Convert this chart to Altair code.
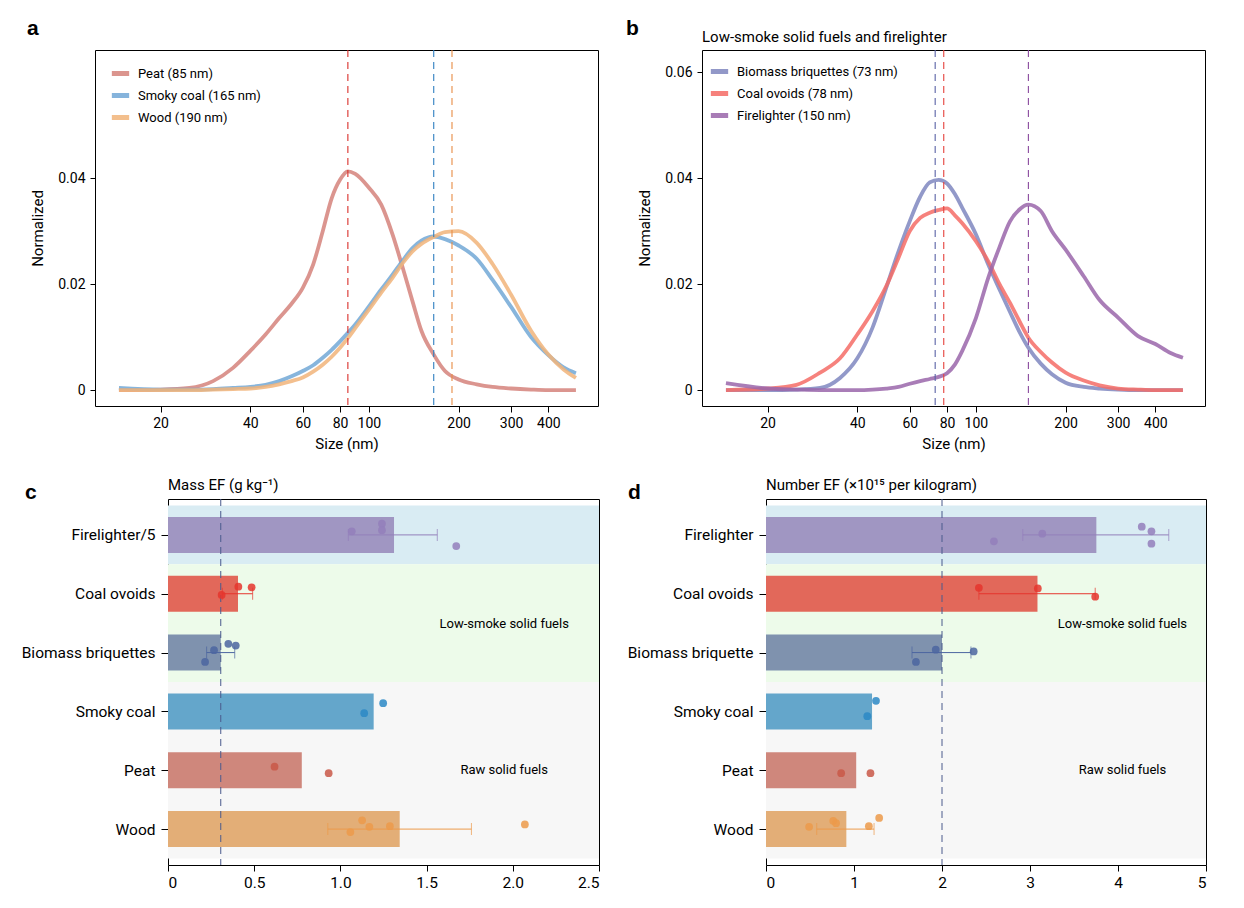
import json
import altair as alt
import pandas as pd

FONT = "Roboto"
LETTER_FONT = "Liberation Sans"

# ---------------- panels a / b : normalised size distributions ----------------
size_nm = [14.5, 20, 25, 30, 35, 40, 45, 50, 55, 60, 65, 70, 75, 80, 85, 90,
           100, 110, 120, 130, 140, 150, 165, 180, 200, 230, 260, 300, 350, 400, 450, 495]

peat = [0.0000, 0.0001, 0.0004, 0.0017, 0.0042, 0.0074, 0.0105, 0.0136, 0.0163, 0.0193,
        0.0237, 0.0300, 0.0362, 0.0397, 0.0413, 0.0408, 0.0382, 0.0350, 0.0294, 0.0230,
        0.0168, 0.0112, 0.0067, 0.0036, 0.0020, 0.0011, 0.0006, 0.0003, 0.0001, 0.0000,
        0.0000, 0.0000]
smoky_coal = [0.0004, 0.0001, 0.0001, 0.0002, 0.0004, 0.0006, 0.0010, 0.0017, 0.0026, 0.0036,
              0.0047, 0.0061, 0.0076, 0.0092, 0.0108, 0.0124, 0.0158, 0.0190, 0.0218, 0.0245,
              0.0268, 0.0282, 0.0290, 0.0285, 0.0273, 0.0248, 0.0208, 0.0157, 0.0100, 0.0066,
              0.0043, 0.0032]
wood = [0.0000, 0.0000, 0.0000, 0.0001, 0.0002, 0.0003, 0.0006, 0.0011, 0.0017, 0.0024,
        0.0035, 0.0048, 0.0063, 0.0080, 0.0098, 0.0117, 0.0152, 0.0184, 0.0212, 0.0240,
        0.0262, 0.0276, 0.0289, 0.0298, 0.0300, 0.0278, 0.0238, 0.0180, 0.0112, 0.0067,
        0.0039, 0.0023]

biomass_briquettes = [0.0000, 0.0000, 0.0001, 0.0004, 0.0023, 0.0060, 0.0118, 0.0193, 0.0262, 0.0319,
                      0.0365, 0.0392, 0.0397, 0.0390, 0.0370, 0.0344, 0.0294, 0.0237, 0.0190, 0.0148,
                      0.0110, 0.0080, 0.0050, 0.0030, 0.0014, 0.0006, 0.0003, 0.0001, 0.0000, 0.0000,
                      0.0000, 0.0000]
coal_ovoids = [0.0000, 0.0003, 0.0010, 0.0033, 0.0060, 0.0105, 0.0149, 0.0196, 0.0250, 0.0300,
               0.0325, 0.0335, 0.0340, 0.0343, 0.0330, 0.0315, 0.0281, 0.0243, 0.0200, 0.0165,
               0.0130, 0.0099, 0.0072, 0.0052, 0.0033, 0.0018, 0.0009, 0.0003, 0.0001, 0.0000,
               0.0000, 0.0000]
firelighter = [0.0013, 0.0003, 0.0001, 0.0000, 0.0000, 0.0000, 0.0001, 0.0003, 0.0006, 0.0012,
               0.0017, 0.0021, 0.0025, 0.0032, 0.0048, 0.0074, 0.0136, 0.0212, 0.0270, 0.0318,
               0.0341, 0.0350, 0.0338, 0.0300, 0.0265, 0.0215, 0.0170, 0.0137, 0.0102, 0.0087,
               0.0070, 0.0061]

raw_names = ["Peat", "Smoky coal", "Wood"]
raw_modes = [85, 165, 190]
raw_line_colors = ["#d5837b", "#72a8d6", "#f1b47a"]
raw_dash_colors = ["#d9302b", "#2f7fc0", "#e88d45"]

lsf_names = ["Biomass briquettes", "Coal ovoids", "Firelighter"]
lsf_modes = [73, 78, 150]
lsf_line_colors = ["#7f87bf", "#f56c66", "#9a66aa"]
lsf_dash_colors = ["#5a62a6", "#e5423c", "#8a4a9e"]

size_ticks = [20, 40, 60, 80, 100, 200, 300, 400]

# ---------------- panels c / d : emission factors ----------------
mass_labels = ["Firelighter/5", "Coal ovoids", "Biomass briquettes", "Smoky coal", "Peat", "Wood"]
num_labels = ["Firelighter", "Coal ovoids", "Biomass briquette", "Smoky coal", "Peat", "Wood"]
row_group = ["fl", "lsf", "lsf", "raw", "raw", "raw"]

mass_mean = [1.311, 0.406, 0.306, 1.193, 0.776, 1.344]
mass_lo = [1.046, 0.315, 0.224, None, None, 0.927]
mass_hi = [1.562, 0.491, 0.387, None, None, 1.760]
mass_points = [[1.066, 1.241, 1.241, 1.672],
               [0.311, 0.408, 0.485],
               [0.215, 0.267, 0.350, 0.393],
               [1.138, 1.248],
               [0.618, 0.932],
               [1.058, 1.126, 1.168, 1.287, 2.070]]
mass_jitter = [[-0.06, -0.19, -0.08, 0.19],
               [0.02, -0.12, -0.11],
               [0.16, -0.04, -0.15, -0.12],
               [0.03, -0.14],
               [-0.06, 0.05],
               [0.05, -0.15, -0.04, -0.05, -0.08]]

num_mean = [3.754, 3.085, 2.000, 1.205, 1.025, 0.913]
num_lo = [2.918, 2.419, 1.659, None, None, 0.576]
num_hi = [4.577, 3.741, 2.329, None, None, 1.228]
num_points = [[2.59, 3.14, 4.27, 4.38, 4.38],
              [2.419, 3.089, 3.741],
              [1.704, 1.929, 2.360],
              [1.151, 1.250],
              [0.854, 1.187],
              [0.490, 0.764, 0.796, 1.169, 1.286]]
num_jitter = [[0.11, -0.02, -0.14, -0.06, 0.15],
              [-0.10, -0.09, 0.05],
              [0.16, -0.05, -0.02],
              [0.08, -0.18],
              [0.05, 0.05],
              [-0.04, -0.14, -0.10, -0.05, -0.19]]

bar_colors = ["#a096c2", "#e2685a", "#7f92ae", "#64a6cb", "#cf877c", "#e3ae77"]
pt_colors = ["#937fbb", "#e5352d", "#4b65a0", "#2b88c5", "#c95848", "#ec9a4a"]
group_names = ["fl", "lsf", "raw"]
group_colors = ["#d9ecf3", "#edfbea", "#f7f7f7"]


def text_mark(text, dx, dy, size=15, bold=False, opacity=1.0, align="left", font=FONT):
    return alt.Chart(pd.DataFrame({"t": [text]})).mark_text(
        font=font, fontWeight="bold" if bold else "normal", fontSize=size, align=align,
        baseline="alphabetic", opacity=opacity, color="black"
    ).encode(text="t:N", x=alt.value(dx), y=alt.value(dy))


def letter_mark(letter, dx, dy, opacity=1.0):
    return text_mark(letter, dx, dy, size=21, bold=True, opacity=opacity, font=LETTER_FONT)


def spacer(w):
    return alt.Chart(pd.DataFrame({"t": ["."]})).mark_text(opacity=0).encode(
        text="t:N").properties(width=w, height=1,
                               view=alt.ViewBackground(stroke="transparent"))


def psd_panel(names, modes, series, line_colors, dash_colors, yticks, letter, letter_dx,
              legend_x, legend_y, header=None, extra=()):
    labels = [f"{n} ({m} nm)" for n, m in zip(names, modes)]
    rows = []
    for lab, vals in zip(labels, series):
        for s, v in zip(size_nm, vals):
            rows.append({"series": lab, "size": s, "value": v})
    df = pd.DataFrame(rows)
    dash_df = pd.DataFrame({"size": modes, "dc": dash_colors})

    xs = alt.Scale(type="log", domain=[12.05, 587], nice=False)
    ys = alt.Scale(domain=[-0.003, 0.0642], nice=False, zero=False)
    xax = alt.Axis(values=size_ticks, format="d", title="Size (nm)", tickSize=6, labelPadding=4,
                   labelFontSize=14, titleFontSize=15, titlePadding=6, grid=False, domain=False)
    yax = alt.Axis(values=yticks, labelExpr="datum.value == 0 ? '0' : format(datum.value, '.2f')",
                   title="Normalized", tickSize=5, labelPadding=5, labelFontSize=14,
                   titleFontSize=15, titlePadding=8, minExtent=42, maxExtent=42,
                   grid=False, domain=False)

    lines = alt.Chart(df).mark_line(strokeWidth=3.8, opacity=0.85, interpolate="monotone").encode(
        x=alt.X("size:Q", scale=xs, axis=xax),
        y=alt.Y("value:Q", scale=ys, axis=yax),
        color=alt.Color("series:N", scale=alt.Scale(domain=labels, range=line_colors),
                        legend=alt.Legend(title=None, orient="none", legendX=legend_x,
                                          legendY=legend_y, symbolType="stroke",
                                          symbolStrokeWidth=5, symbolSize=300,
                                          labelFontSize=13, labelOffset=6, rowPadding=0,
                                          padding=0, symbolOpacity=0.85, labelLimit=400)),
    )
    dashes = alt.Chart(dash_df).mark_rule(strokeDash=[7, 5], strokeWidth=1.1).encode(
        x=alt.X("size:Q", scale=xs, axis=xax),
        color=alt.Color("dc:N", scale=None),
    )
    layers = [lines, dashes, letter_mark(letter, letter_dx, -15)]
    if header:
        layers.append(text_mark(header, 0, -8))
    layers.extend(extra)
    return alt.layer(*layers).properties(width=503, height=356)


def ef_panel(labels, means, lo, hi, pvals, pjit, xmax, xticks, xfmt, width, header,
             letter, letter_dx, extent, note_x, extra=()):
    n = len(labels)
    rows = list(range(n))
    bar_df = pd.DataFrame({"row": rows, "mean": means, "bc": bar_colors})
    err_df = pd.DataFrame({"row": rows, "lo": lo, "hi": hi, "pc": pt_colors}).dropna()
    pt_df = pd.DataFrame([{"row": r, "v": v, "j": j, "pc": pt_colors[r]}
                          for r in rows for v, j in zip(pvals[r], pjit[r])])
    band_df = pd.DataFrame({
        "g": group_names,
        "first": [min(i for i in rows if row_group[i] == g) for g in group_names],
        "last": [max(i for i in rows if row_group[i] == g) for g in group_names],
        "bg": group_colors,
    })
    note_df = pd.DataFrame({"t": ["Low-smoke solid fuels", "Raw solid fuels"],
                            "row": [1.51, 3.99]})

    xs = alt.Scale(domain=[0, xmax], nice=False, zero=True, padding=0)
    ys = alt.Scale(domain=[-0.61, n - 1 + 0.61], reverse=True, nice=False, zero=False,
                   padding=0)
    xax = alt.Axis(values=xticks, labelExpr=xfmt, title=None, tickSize=6, labelPadding=4,
                   labelFontSize=15.5, grid=False, domain=False)
    yax = alt.Axis(values=rows, labelExpr=json.dumps(labels) + "[datum.value]", title=None,
                   tickSize=7, labelPadding=6, labelFontSize=15.5, minExtent=extent,
                   maxExtent=extent, grid=False, domain=False, labelLimit=400)

    bands = alt.Chart(band_df).transform_calculate(
        y1="datum.first - 0.5", y2="datum.last + 0.5"
    ).mark_rect().encode(
        y=alt.Y("y1:Q", scale=ys, axis=yax), y2="y2:Q",
        x=alt.datum(0, scale=xs, axis=xax), x2=alt.datum(xmax),
        fill=alt.Fill("bg:N", scale=None),
    )
    bars = alt.Chart(bar_df).mark_bar(orient="horizontal", size=36).encode(
        x=alt.X("mean:Q", scale=xs, axis=xax),
        y=alt.Y("row:Q", scale=ys, axis=yax),
        color=alt.Color("bc:N", scale=None),
    )
    dash = alt.Chart(bar_df).transform_filter("datum.row == 2").mark_rule(
        strokeDash=[7, 5], strokeWidth=1, color="#4a5a8c"
    ).encode(x=alt.X("mean:Q", scale=xs, axis=xax))
    err_rule = alt.Chart(err_df).mark_rule(strokeWidth=1).encode(
        x=alt.X("lo:Q", scale=xs, axis=xax), x2="hi:Q",
        y=alt.Y("row:Q", scale=ys, axis=yax),
        color=alt.Color("pc:N", scale=None),
    )
    err_caps = alt.Chart(err_df).transform_fold(["lo", "hi"], as_=["k", "v"]).mark_tick(
        orient="vertical", size=12, thickness=1
    ).encode(
        x=alt.X("v:Q", scale=xs, axis=xax),
        y=alt.Y("row:Q", scale=ys, axis=yax),
        color=alt.Color("pc:N", scale=None),
    )
    points = alt.Chart(pt_df).transform_calculate(yj="datum.row + datum.j").mark_circle(
        size=60, opacity=0.85
    ).encode(
        x=alt.X("v:Q", scale=xs, axis=xax),
        y=alt.Y("yj:Q", scale=ys, axis=yax),
        color=alt.Color("pc:N", scale=None),
    )
    notes = alt.Chart(note_df).mark_text(fontSize=13, font=FONT, align="center",
                                         baseline="middle", color="black").encode(
        text="t:N", x=alt.datum(note_x), y=alt.Y("row:Q", scale=ys, axis=yax),
    )
    return alt.layer(
        bands, bars, dash, err_rule, err_caps, points, notes,
        text_mark(header, 0, -9), letter_mark(letter, letter_dx, 0), *extra,
    ).properties(width=width, height=366)


panel_a = psd_panel(raw_names, raw_modes, [peat, smoky_coal, wood], raw_line_colors,
                    raw_dash_colors, [0, 0.02, 0.04], "a", -68, 14, 12)
panel_b = psd_panel(lsf_names, lsf_modes, [biomass_briquettes, coal_ovoids, firelighter],
                    lsf_line_colors, lsf_dash_colors, [0, 0.02, 0.04, 0.06], "b", -76, 6, 10,
                    header="Low-smoke solid fuels and firelighter",
                    extra=[letter_mark("b", -102, -15, opacity=0)])

panel_c = ef_panel(mass_labels, mass_mean, mass_lo, mass_hi, mass_points, mass_jitter, 2.5,
                   [0, 0.5, 1.0, 1.5, 2.0, 2.5],
                   "datum.value == 0 ? '0' : format(datum.value, '.1f')", 431,
                   "Mass EF (g kg\u207b\u00b9)", "c", -143, 147, 1.95)
panel_d = ef_panel(num_labels, num_mean, num_lo, num_hi, num_points, num_jitter, 5,
                   [0, 1, 2, 3, 4, 5], "format(datum.value, 'd')", 440,
                   "Number EF (\u00d710\u00b9\u2075 per kilogram)", "d", -138, 140, 4.05,
                   extra=[letter_mark("d", -165, 0, opacity=0)])

row1 = alt.hconcat(spacer(8), panel_a, panel_b, spacing=0).resolve_scale(color="independent")
row2 = alt.hconcat(spacer(1), panel_c, panel_d, spacing=0)

chart = alt.vconcat(row1, row2, spacing=25).resolve_scale(color="independent").properties(
    padding={"left": 7, "top": 9, "right": 5, "bottom": 2}
).configure(font=FONT).configure_view(
    stroke="black", strokeWidth=1
).configure_axis(
    labelFont=FONT, titleFont=FONT, labelColor="black", titleColor="black",
    tickColor="black", titleFontWeight="normal", grid=False
).configure_legend(labelFont=FONT, labelColor="black")

chart.save("out.html", embed_options={"renderer": "svg", "actions": False})
